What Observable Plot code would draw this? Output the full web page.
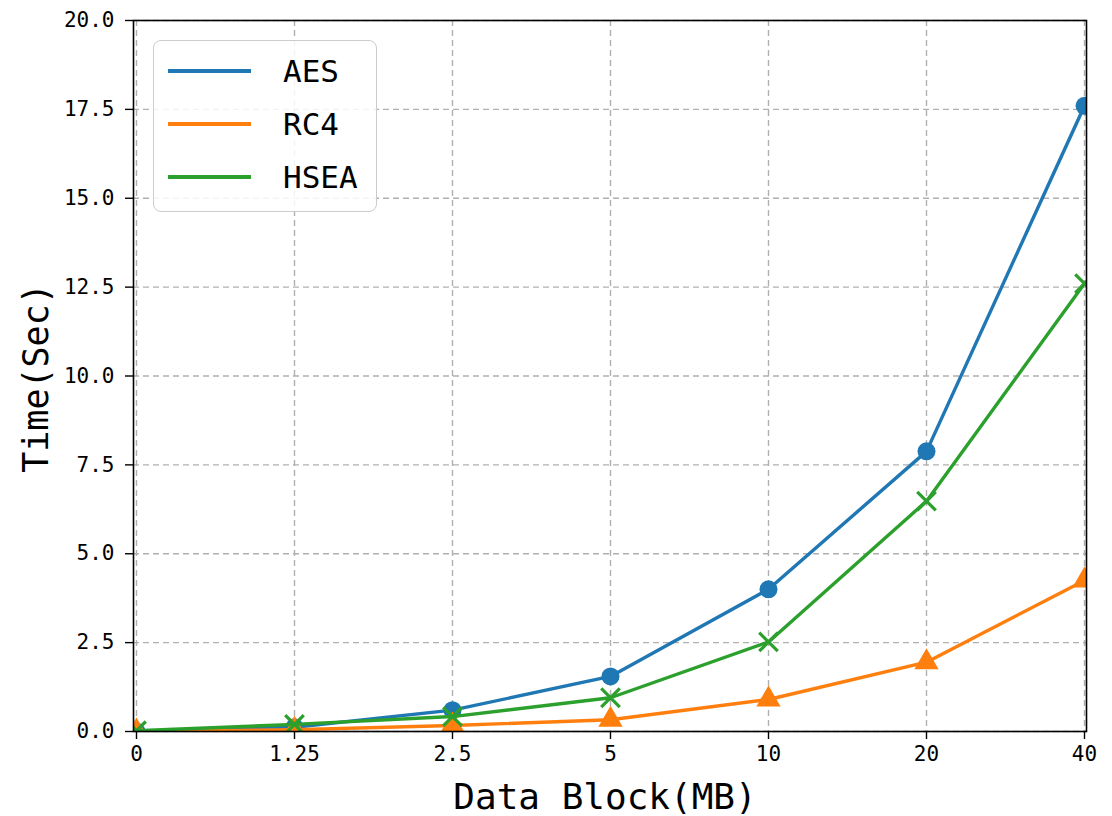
<!DOCTYPE html>
<html>
<head>
<meta charset="utf-8">
<script src="https://cdn.jsdelivr.net/npm/d3@7"></script>
<script src="https://cdn.jsdelivr.net/npm/@observablehq/plot@0.6"></script>
<style>
  html, body { margin: 0; padding: 0; background: #fff; overflow: hidden; }
  #wrap { position: relative; width: 1112px; height: 816px; font-family: "DejaVu Sans Mono", monospace; overflow: hidden; }
  #wrap svg { position: absolute; left: 0; top: 0; }
  .ttl { position: absolute; color: #000; white-space: nowrap; font-family: "DejaVu Sans Mono", monospace; line-height: 1; }
  #legend { position: absolute; left: 153px; top: 40px; width: 222px; height: 170px;
    border: 1.5px solid #cccccc; border-radius: 8px; background: rgba(255,255,255,0.85); }
  .lrow { position: absolute; left: 0; height: 40px; }
  .lline { position: absolute; left: 14px; width: 83px; height: 4px; top: 18px; }
  .ltxt { position: absolute; left: 129px; top: 0; font-size: 31px; line-height: 40px; color: #000; }
</style>
</head>
<body>
<div id="wrap"></div>
<script>
// ---- data ----
const xLabels = ["0", "1.25", "2.5", "5", "10", "20", "40"];
const yTicks = [0, 2.5, 5, 7.5, 10, 12.5, 15, 17.5, 20];
const seriesNames = ["AES", "RC4", "HSEA"];
const seriesColors = ["#1f77b4", "#ff7f0e", "#2ca02c"];
const seriesSymbols = ["circle", "triangle", "times"];
const aes  = [0, 0.12, 0.6, 1.55, 4.0, 7.88, 17.6];
const rc4  = [0, 0.05, 0.17, 0.33, 0.9, 1.95, 4.25];
const hsea = [0.02, 0.2, 0.42, 0.95, 2.52, 6.48, 12.6];
const values = [aes, rc4, hsea];

const rows = [];
seriesNames.forEach((s, i) => values[i].forEach((v, j) => rows.push({series: s, x: xLabels[j], y: v})));

const seriesMarks = [];
seriesNames.forEach((s, i) => {
  const d = rows.filter(r => r.series === s);
  seriesMarks.push(Plot.line(d, {x: "x", y: "y", stroke: seriesColors[i], strokeWidth: 3.4, clip: true}));
  if (seriesSymbols[i] === "times") {
    seriesMarks.push(Plot.dot(d, {x: "x", y: "y", symbol: "times", r: 8.5, stroke: seriesColors[i], strokeWidth: 3.2, clip: true}));
  } else {
    seriesMarks.push(Plot.dot(d, {x: "x", y: "y", symbol: seriesSymbols[i], r: 9, fill: seriesColors[i], stroke: "none", clip: true}));
  }
});

const chart = Plot.plot({
  width: 1112,
  height: 816,
  marginLeft: 133,
  marginRight: 26,
  marginTop: 20,
  marginBottom: 85,
  style: {fontFamily: "DejaVu Sans Mono, monospace", color: "#000", background: "transparent"},
  x: {type: "point", domain: xLabels, padding: 0},
  y: {domain: [0, 20]},
  marks: [
    Plot.gridX(xLabels, {stroke: "#b0b0b0", strokeOpacity: 1, strokeWidth: 1.4, strokeDasharray: "6,4"}),
    Plot.gridY(yTicks, {stroke: "#b0b0b0", strokeOpacity: 1, strokeWidth: 1.4, strokeDasharray: "6,4"}),
    ...seriesMarks,
    Plot.axisX(xLabels, {tickSize: 8, tickPadding: 7, fontSize: 21, label: null, stroke: "#000", strokeWidth: 1.4}),
    Plot.axisY(yTicks, {tickSize: 8, tickPadding: 11, fontSize: 21, label: null, tickFormat: d => d.toFixed(1), stroke: "#000", strokeWidth: 1.4}),
    Plot.frame({stroke: "#000", strokeWidth: 1.6})
  ]
});

const wrap = document.getElementById("wrap");
wrap.appendChild(chart);

// axis titles
const xt = document.createElement("div");
xt.className = "ttl";
xt.textContent = "Data Block(MB)";
xt.style.fontSize = "36px";
xt.style.left = "605px"; xt.style.top = "797px";
xt.style.transform = "translate(-50%, -50%)";
wrap.appendChild(xt);

const yt = document.createElement("div");
yt.className = "ttl";
yt.textContent = "Time(Sec)";
yt.style.fontSize = "35px";
yt.style.left = "36px"; yt.style.top = "378px";
yt.style.transform = "translate(-50%, -50%) rotate(-90deg)";
wrap.appendChild(yt);

// legend
const lg = document.createElement("div");
lg.id = "legend";
seriesNames.forEach((s, i) => {
  const row = document.createElement("div");
  row.className = "lrow";
  row.style.top = (10 + i * 53) + "px";
  row.style.width = "100%";
  const ln = document.createElement("div");
  ln.className = "lline";
  ln.style.background = seriesColors[i];
  const tx = document.createElement("div");
  tx.className = "ltxt";
  tx.textContent = s;
  row.appendChild(ln); row.appendChild(tx);
  lg.appendChild(row);
});
wrap.appendChild(lg);
</script>
</body>
</html>
